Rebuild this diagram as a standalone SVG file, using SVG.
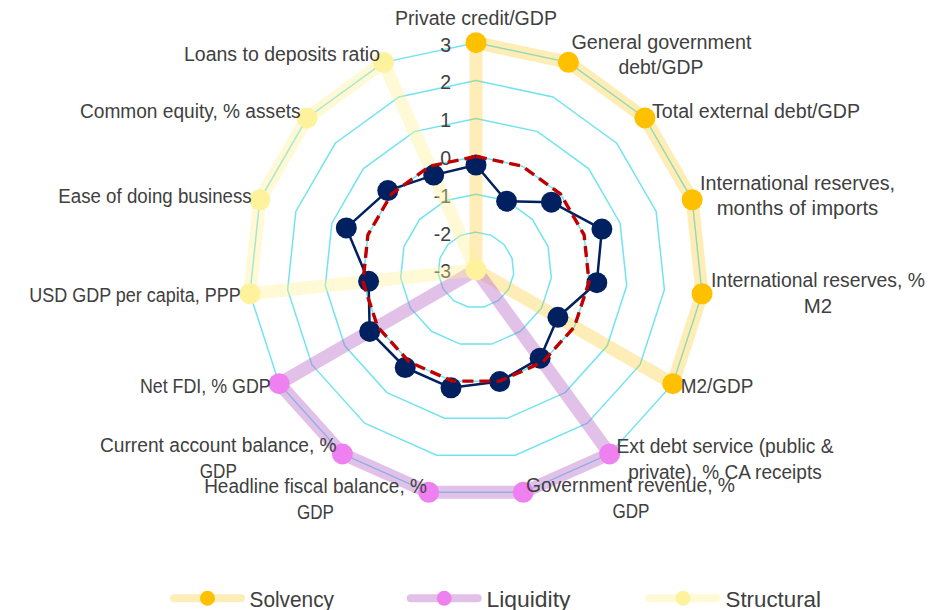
<svg xmlns="http://www.w3.org/2000/svg" width="931" height="610" viewBox="0 0 931 610">
<style>
.grid{fill:none;stroke:#72E4F0;stroke-width:1.5}
.band{fill:none;stroke-width:13;stroke-linejoin:round;stroke-linecap:round}
.solv{stroke:#FFC000;stroke-opacity:0.28}
.liq{stroke:#BB6BCB;stroke-opacity:0.42}
.str{stroke:#FFEF90;stroke-opacity:0.38}
.mS{fill:#FFC000}
.mL{fill:#EE80F0}
.mT{fill:#FFF29C}
.mN{fill:#002060}
.lbl{font-family:"Liberation Sans",Arial,sans-serif;font-size:19.5px;fill:#404040;text-anchor:middle}
.num{font-family:"Liberation Sans",Arial,sans-serif;font-size:19.5px;fill:#404040;text-anchor:end}
.leg{font-family:"Liberation Sans",Arial,sans-serif;font-size:21.5px;fill:#404040}
</style>
<rect width="931" height="610" fill="#FFFFFF"/>
<g id="grid">
<polygon class="grid" points="476,232.12 491.41,235.39 504.15,244.65 512.03,258.29 513.67,273.96 508.81,288.94 498.27,300.65 483.88,307.05 468.12,307.05 453.73,300.65 443.19,288.94 438.33,273.96 439.97,258.29 447.85,244.65 460.59,235.39"/>
<polygon class="grid" points="476,194.23 506.82,200.78 532.30,219.30 548.06,246.59 551.35,277.92 541.62,307.88 520.54,331.30 491.75,344.11 460.25,344.11 431.46,331.30 410.38,307.88 400.65,277.92 403.94,246.59 419.70,219.30 445.18,200.78"/>
<polygon class="grid" points="476,156.35 522.22,166.18 560.45,193.96 584.09,234.88 589.02,281.88 574.42,326.83 542.80,361.94 499.63,381.16 452.37,381.16 409.20,361.94 377.58,326.83 362.98,281.88 367.91,234.88 391.55,193.96 429.78,166.18"/>
<polygon class="grid" points="476,118.47 537.63,131.58 588.60,168.61 620.12,223.18 626.70,285.83 607.23,345.77 565.07,392.59 507.50,418.21 444.50,418.21 386.93,392.59 344.77,345.77 325.30,285.83 331.88,223.18 363.40,168.61 414.37,131.58"/>
<polygon class="grid" points="476,80.58 553.04,96.97 616.76,143.26 656.16,211.47 664.38,289.79 640.04,364.71 587.34,423.24 515.38,455.27 436.62,455.27 364.66,423.24 311.96,364.71 287.62,289.79 295.84,211.47 335.24,143.26 398.96,96.97"/>
<polygon class="grid" points="476,42.70 568.44,62.36 644.91,117.91 692.18,199.76 702.05,293.75 672.85,383.65 609.61,453.89 523.26,492.32 428.74,492.32 342.39,453.89 279.15,383.65 249.95,293.75 259.82,199.76 307.09,117.91 383.56,62.36"/>
</g>
<g id="axis-values">
<text class="num" x="451" y="51.5">3</text>
<text class="num" x="451" y="89">2</text>
<text class="num" x="451" y="127">1</text>
<text class="num" x="451" y="165">0</text>
<text class="num" x="451" y="203">-1</text>
<text class="num" x="451" y="240.5">-2</text>
<text class="num" x="451" y="278">-3</text>
</g>
<g id="series-solvency">
<path class="band solv" d="M476,270 L476,42.7 L568.44,62.36 L644.91,117.91 L692.18,199.76 L702.05,293.75 L672.85,383.65 Z"/>
<circle class="mS" cx="476" cy="42.7" r="10.5"/>
<circle class="mS" cx="568.44" cy="62.36" r="10.5"/>
<circle class="mS" cx="644.91" cy="117.91" r="10.5"/>
<circle class="mS" cx="692.18" cy="199.76" r="10.5"/>
<circle class="mS" cx="702.05" cy="293.75" r="10.5"/>
<circle class="mS" cx="672.85" cy="383.65" r="10.5"/>
</g>
<g id="series-liquidity">
<path class="band liq" d="M476,270 L609.61,453.89 L523.26,492.32 L428.74,492.32 L342.39,453.89 L279.15,383.65 Z"/>
<circle class="mL" cx="609.61" cy="453.89" r="10.5"/>
<circle class="mL" cx="523.26" cy="492.32" r="10.5"/>
<circle class="mL" cx="428.74" cy="492.32" r="10.5"/>
<circle class="mL" cx="342.39" cy="453.89" r="10.5"/>
<circle class="mL" cx="279.15" cy="383.65" r="10.5"/>
</g>
<g id="series-structural">
<path class="band str" d="M476,270 L249.95,293.75 L259.82,199.76 L307.09,117.91 L383.56,62.36 Z"/>
<circle class="mT" cx="249.95" cy="293.75" r="10.5"/>
<circle class="mT" cx="259.82" cy="199.76" r="10.5"/>
<circle class="mT" cx="307.09" cy="117.91" r="10.5"/>
<circle class="mT" cx="383.56" cy="62.36" r="10.5"/>
<circle class="mT" cx="476" cy="270" r="10.5"/>
</g>
<g id="series-country">
<polygon points="476,165 506.6,201.2 551.4,202.2 601.9,229.1 596.8,282.7 557.9,317.3 540.1,358.2 499.7,381.6 451,387.8 405.2,367.5 369.7,331.4 368.6,281.3 346.3,227.9 387.8,190.6 433.7,175.1" fill="none" stroke="#002060" stroke-width="2.5" stroke-linejoin="round"/>
<circle class="mN" cx="476" cy="165" r="10.5"/>
<circle class="mN" cx="506.6" cy="201.2" r="10.5"/>
<circle class="mN" cx="551.4" cy="202.2" r="10.5"/>
<circle class="mN" cx="601.9" cy="229.1" r="10.5"/>
<circle class="mN" cx="596.8" cy="282.7" r="10.5"/>
<circle class="mN" cx="557.9" cy="317.3" r="10.5"/>
<circle class="mN" cx="540.1" cy="358.2" r="10.5"/>
<circle class="mN" cx="499.7" cy="381.6" r="10.5"/>
<circle class="mN" cx="451" cy="387.8" r="10.5"/>
<circle class="mN" cx="405.2" cy="367.5" r="10.5"/>
<circle class="mN" cx="369.7" cy="331.4" r="10.5"/>
<circle class="mN" cx="368.6" cy="281.3" r="10.5"/>
<circle class="mN" cx="346.3" cy="227.9" r="10.5"/>
<circle class="mN" cx="387.8" cy="190.6" r="10.5"/>
<circle class="mN" cx="433.7" cy="175.1" r="10.5"/>
</g>
<g id="series-benchmark">
<polygon points="476,156.35 522.22,166.18 560.45,193.96 584.09,234.88 589.02,281.88 574.42,326.83 542.80,361.94 499.63,381.16 452.37,381.16 409.20,361.94 377.58,326.83 362.98,281.88 367.91,234.88 391.55,193.96 429.78,166.18" fill="none" stroke="#C00000" stroke-width="3.4" stroke-dasharray="11,6"/>
</g>
<g id="axis-labels">
<text class="lbl" x="476" y="25" textLength="162" lengthAdjust="spacingAndGlyphs">Private credit/GDP</text>
<text class="lbl" x="661.5" y="48.5" textLength="180" lengthAdjust="spacingAndGlyphs">General government</text>
<text class="lbl" x="661" y="74" textLength="85" lengthAdjust="spacingAndGlyphs">debt/GDP</text>
<text class="lbl" x="756" y="118" textLength="208" lengthAdjust="spacingAndGlyphs">Total external debt/GDP</text>
<text class="lbl" x="797.5" y="190" textLength="195" lengthAdjust="spacingAndGlyphs">International reserves,</text>
<text class="lbl" x="797.5" y="215" textLength="161.6" lengthAdjust="spacingAndGlyphs">months of imports</text>
<text class="lbl" x="818" y="287" textLength="214" lengthAdjust="spacingAndGlyphs">International reserves, %</text>
<text class="lbl" x="818" y="312.5" textLength="28.4" lengthAdjust="spacingAndGlyphs">M2</text>
<text class="lbl" x="717" y="393" textLength="72.6" lengthAdjust="spacingAndGlyphs">M2/GDP</text>
<text class="lbl" x="725" y="453" textLength="217" lengthAdjust="spacingAndGlyphs">Ext debt service (public &amp;</text>
<text class="lbl" x="725" y="478.5" textLength="193.4" lengthAdjust="spacingAndGlyphs">private), % CA receipts</text>
<text class="lbl" x="630.5" y="492" textLength="209" lengthAdjust="spacingAndGlyphs">Government revenue, %</text>
<text class="lbl" x="631" y="517.5" textLength="37" lengthAdjust="spacingAndGlyphs">GDP</text>
<text class="lbl" x="315.5" y="493" textLength="222.7" lengthAdjust="spacingAndGlyphs">Headline fiscal balance, %</text>
<text class="lbl" x="315.5" y="518.5" textLength="37" lengthAdjust="spacingAndGlyphs">GDP</text>
<text class="lbl" x="218.3" y="452" textLength="236.7" lengthAdjust="spacingAndGlyphs">Current account balance, %</text>
<text class="lbl" x="218.3" y="478" textLength="37" lengthAdjust="spacingAndGlyphs">GDP</text>
<text class="lbl" x="205.3" y="393" textLength="130.7" lengthAdjust="spacingAndGlyphs">Net FDI, % GDP</text>
<text class="lbl" x="135" y="301.5" textLength="211.4" lengthAdjust="spacingAndGlyphs">USD GDP per capita, PPP</text>
<text class="lbl" x="155" y="203" textLength="193.4" lengthAdjust="spacingAndGlyphs">Ease of doing business</text>
<text class="lbl" x="190.3" y="117.5" textLength="220.7" lengthAdjust="spacingAndGlyphs">Common equity, % assets</text>
<text class="lbl" x="282" y="61" textLength="196" lengthAdjust="spacingAndGlyphs">Loans to deposits ratio</text>
</g>
<g id="legend">
<g id="legend-solvency">
<line x1="174" y1="598.3" x2="241" y2="598.3" stroke="#FFC000" stroke-opacity="0.28" stroke-width="8" stroke-linecap="round"/>
<circle class="mS" cx="207.5" cy="598.3" r="7.5"/>
<text class="leg" x="249.5" y="606.5" textLength="84.5" lengthAdjust="spacingAndGlyphs">Solvency</text>
</g>
<g id="legend-liquidity">
<line x1="410.7" y1="598.3" x2="477.7" y2="598.3" stroke="#BB6BCB" stroke-opacity="0.42" stroke-width="8" stroke-linecap="round"/>
<circle class="mL" cx="444.2" cy="598.3" r="7.5"/>
<text class="leg" x="486.5" y="606.5" textLength="84" lengthAdjust="spacingAndGlyphs">Liquidity</text>
</g>
<g id="legend-structural">
<line x1="649.5" y1="598.3" x2="716.5" y2="598.3" stroke="#FFEF90" stroke-opacity="0.38" stroke-width="8" stroke-linecap="round"/>
<circle class="mT" cx="683" cy="598.3" r="7.5"/>
<text class="leg" x="725.5" y="606.5" textLength="95.5" lengthAdjust="spacingAndGlyphs">Structural</text>
</g>
</g>
</svg>
